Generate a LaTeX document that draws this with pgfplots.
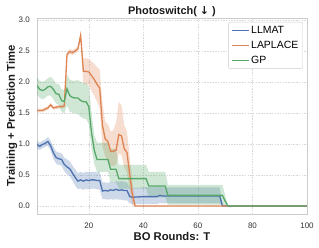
\documentclass[border=0pt]{standalone}
\usepackage{fontspec}
\setmainfont{Liberation Sans}
\newfontfamily\dejavu{DejaVu Sans}
\usepackage{pgfplots}
\pgfplotsset{compat=1.18}
\usepackage{pgfplotstable}
\usepgfplotslibrary{fillbetween}
\definecolor{cblue}{HTML}{4C72B0}
\definecolor{corange}{HTML}{DD8452}
\definecolor{cgreen}{HTML}{55A868}
\definecolor{tickgray}{HTML}{333333}
\definecolor{labgray}{HTML}{1A1A1A}
\definecolor{gridgray}{HTML}{D9D9D9}
\definecolor{framegray}{HTML}{CCCCCC}

\pgfplotstableread{
x y lo hi
1 0.99 0.93 1.05
2 0.96 0.90 1.02
3 0.99 0.93 1.05
4 1.01 0.95 1.07
5 1.04 0.97 1.11
6 0.97 0.89 1.05
7 0.86 0.76 0.96
8 0.78 0.68 0.88
9 0.76 0.66 0.86
10 0.75 0.65 0.85
11 0.67 0.56 0.78
12 0.63 0.51 0.75
13 0.60 0.48 0.72
14 0.53 0.41 0.65
15 0.46 0.33 0.59
16 0.40 0.27 0.53
17 0.42 0.28 0.55
18 0.40 0.26 0.53
19 0.42 0.28 0.55
20 0.41 0.27 0.54
21 0.42 0.28 0.55
22 0.42 0.28 0.55
23 0.41 0.27 0.54
24 0.41 0.26 0.55
25 0.24 0.11 0.38
26 0.25 0.11 0.38
27 0.24 0.10 0.37
28 0.26 0.11 0.39
29 0.25 0.10 0.38
30 0.27 0.11 0.40
31 0.25 0.10 0.39
32 0.26 0.10 0.40
33 0.25 0.09 0.39
34 0.25 0.09 0.38
35 0.15 0.04 0.30
36 0.14 0.03 0.29
40 0.15 0.03 0.30
45 0.15 0.03 0.31
46 0.17 0.05 0.32
47 0.16 0.04 0.30
68 0.16 0.04 0.30
69 0.00 0.00 0.00
100 0.00 0.00 0.00
}\llmat

\pgfplotstableread{
x y lo hi
1 1.54 1.51 1.57
2 1.54 1.51 1.57
3 1.54 1.51 1.57
4 1.56 1.53 1.59
5 1.58 1.55 1.61
6 1.63 1.60 1.66
7 1.58 1.55 1.61
8 1.59 1.56 1.62
9 1.60 1.57 1.63
10 1.60 1.57 1.63
11 1.61 1.58 1.64
12 2.44 2.40 2.48
13 2.49 2.45 2.53
14 2.47 2.43 2.51
15 2.50 2.46 2.54
16 2.53 2.49 2.57
17 2.75 2.70 2.80
18 2.17 1.97 2.38
19 2.17 1.96 2.38
20 2.16 1.94 2.37
21 2.10 1.86 2.33
22 2.04 1.78 2.29
23 1.96 1.68 2.24
24 1.90 1.58 2.20
25 1.30 0.95 1.65
26 1.08 0.80 1.36
27 1.04 0.72 1.32
28 0.88 0.65 1.20
29 0.88 0.64 1.22
30 0.90 0.66 1.35
31 1.15 0.85 1.68
32 1.13 0.82 1.62
33 0.92 0.62 1.30
34 0.86 0.55 1.20
35 0.50 0.25 0.80
36 0.18 0.00 0.40
37 0.00 0.00 0.00
100 0.00 0.00 0.00
}\laplace

\pgfplotstableread{
x y lo hi
1 1.94 1.80 2.08
2 1.88 1.74 2.02
3 1.86 1.72 2.00
4 1.88 1.74 2.02
5 1.92 1.78 2.06
6 1.93 1.78 2.08
7 1.88 1.72 2.04
8 1.81 1.65 1.97
9 1.80 1.63 1.97
10 1.70 1.52 1.88
11 1.68 1.49 1.87
12 1.89 1.62 2.12
13 1.78 1.52 2.04
14 1.75 1.50 2.02
15 1.74 1.49 2.02
16 1.74 1.48 2.03
17 1.70 1.44 2.00
18 1.68 1.41 1.98
19 1.68 1.40 1.98
20 1.60 1.32 1.92
21 1.18 0.92 1.50
22 0.90 0.68 1.15
23 0.75 0.55 1.02
27 0.75 0.55 1.02
28 0.59 0.38 0.92
30 0.59 0.38 0.92
31 0.44 0.28 0.66
41 0.44 0.28 0.66
42 0.32 0.14 0.55
48 0.32 0.14 0.55
49 0.17 0.02 0.34
69 0.17 0.02 0.34
70 0.08 0.00 0.17
71 0.00 0.00 0.00
100 0.00 0.00 0.00
}\gp

\begin{document}
\begin{tikzpicture}
\begin{axis}[
  at={(0,0)}, anchor=south west,
  scale only axis, width=270bp, height=196bp,
  xmin=1, xmax=100, ymin=-0.13, ymax=3.03,
  enlargelimits=false,
  xtick={20,40,60,80,100},
  ytick={0,0.5,1,1.5,2,2.5,3},
  /pgf/number format/assume math mode=true,
  yticklabel style={/pgf/number format/fixed, /pgf/number format/fixed zerofill, /pgf/number format/precision=1, anchor=east, inner sep=0pt, xshift=-7bp},
  xticklabel style={anchor=center, inner sep=0pt, yshift=-11.5bp},
  tick label style={font=\fontsize{8}{9}\selectfont, text=tickgray},
  major tick length=0pt,
  grid=major,
  major grid style={gridgray, line width=0.5bp, dash pattern=on 1.5bp off 1.2bp},
  axis line style={framegray, line width=0.9bp},
  title={\bfseries Photoswitch( {\dejavu\bfseries ↓} )},
  title style={at={(axis description cs:0.5,0.9899)}, anchor=base, font=\fontsize{11}{13}\selectfont, text=labgray, inner sep=0pt},
  xlabel={\bfseries BO Rounds: T},
  xlabel style={at={(axis description cs:0.5,-0.136)}, anchor=base, font=\fontsize{11.3}{13}\selectfont, text=labgray, inner sep=0pt},
  ylabel={\bfseries Training + Prediction Time},
  ylabel style={at={(axis description cs:-0.0815,0.5)}, anchor=base, font=\fontsize{11.3}{13}\selectfont, text=labgray, inner sep=0pt},
  legend style={at={(1,1)}, anchor=north east, xshift=-4bp, yshift=-4bp,
    font=\fontsize{10.5}{12}\selectfont, draw=framegray, fill=white,
    rounded corners=2bp, inner xsep=3bp, inner ysep=2bp, row sep=2.3bp,
    nodes={inner sep=1.5bp, text height=7.6bp, text depth=2bp}},
  legend cell align=left,
]
% bands
\addplot[name path=bu, draw=none, forget plot] table[x=x,y=hi]{\llmat};
\addplot[name path=bl, draw=none, forget plot] table[x=x,y=lo]{\llmat};
\addplot[fill=cblue, fill opacity=0.28, draw=none, forget plot] fill between[of=bu and bl];
\addplot[name path=ou, draw=none, forget plot] table[x=x,y=hi]{\laplace};
\addplot[name path=ol, draw=none, forget plot] table[x=x,y=lo]{\laplace};
\addplot[fill=corange, fill opacity=0.28, draw=none, forget plot] fill between[of=ou and ol];
\addplot[name path=gu, draw=none, forget plot] table[x=x,y=hi]{\gp};
\addplot[name path=gl, draw=none, forget plot] table[x=x,y=lo]{\gp};
\addplot[fill=cgreen, fill opacity=0.28, draw=none, forget plot] fill between[of=gu and gl];
% lines
\addplot[cblue, line width=1.3bp] table[x=x,y=y]{\llmat};
\addlegendentry{LLMAT}
\addplot[corange, line width=1.3bp] table[x=x,y=y]{\laplace};
\addlegendentry{LAPLACE}
\addplot[cgreen, line width=1.3bp] table[x=x,y=y]{\gp};
\addlegendentry{GP}
\end{axis}
\pgfresetboundingbox
\path[use as bounding box] (-37bp,-34bp) rectangle (282bp,214bp);
\end{tikzpicture}
\end{document}
